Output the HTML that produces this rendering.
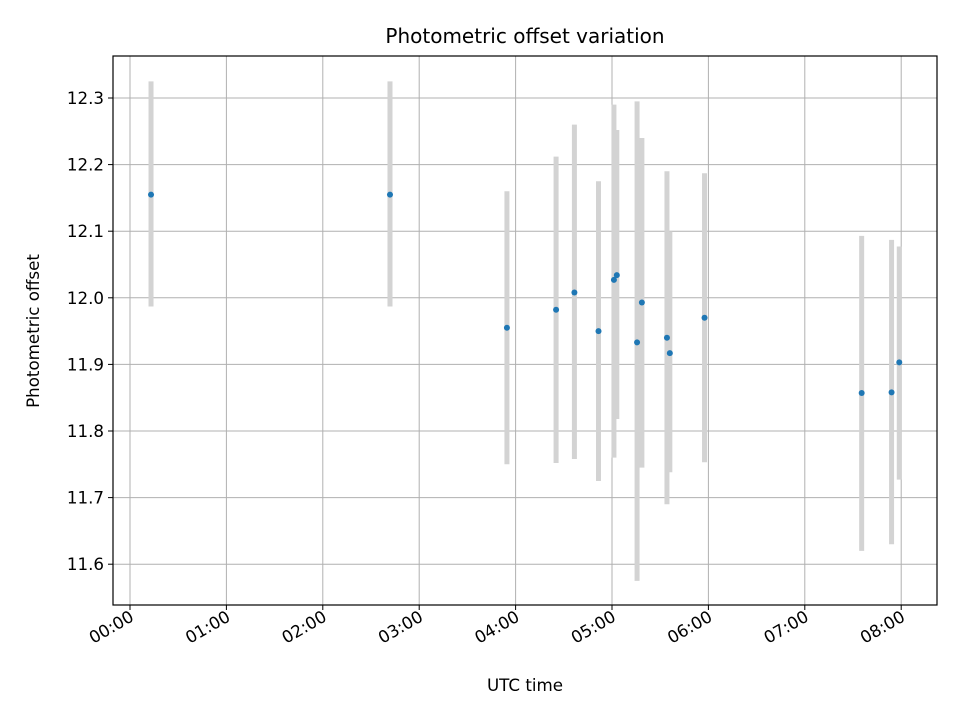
<!DOCTYPE html>
<html><head><meta charset="utf-8"><style>
body{margin:0;background:#fff}
svg text{font-family:"DejaVu Sans","Liberation Sans",sans-serif;fill:#000}
</style></head><body>
<svg id="c" width="960" height="720" xmlns="http://www.w3.org/2000/svg">
<rect width="960" height="720" fill="#fff"/>
<text x="525" y="43" font-size="20" text-anchor="middle">Photometric offset variation</text>
<text x="525" y="691" font-size="16.7" text-anchor="middle">UTC time</text>
<text transform="translate(39,331) rotate(-90)" font-size="16.7" text-anchor="middle">Photometric offset</text>
<g id="grid"></g><g id="errs"></g><g id="pts"></g><g id="ticks"></g>
<rect x="113" y="56" width="824" height="549" fill="none" stroke="#000" stroke-width="1.2"/>
</svg>
<script>
const timesH=[0.218,2.697,3.91,4.42,4.61,4.86,5.02,5.05,5.26,5.31,5.57,5.60,5.96,7.59,7.90,7.98];
const offsets=[12.155,12.155,11.955,11.982,12.008,11.95,12.027,12.034,11.933,11.993,11.94,11.917,11.97,11.857,11.858,11.903];
const errLow=[11.987,11.987,11.75,11.752,11.758,11.725,11.76,11.818,11.575,11.745,11.69,11.738,11.753,11.62,11.63,11.727];
const errHigh=[12.325,12.325,12.16,12.212,12.26,12.175,12.29,12.252,12.295,12.24,12.19,12.1,12.187,12.093,12.087,12.077];
const xTickLabels=["00:00","01:00","02:00","03:00","04:00","05:00","06:00","07:00","08:00"];
const yTicks=[11.6,11.7,11.8,11.9,12.0,12.1,12.2,12.3];
const NS="http://www.w3.org/2000/svg";
const X=h=>130+h*96.4, Y=v=>98+(12.3-v)*666;
function mk(tag,attrs,parent){const e=document.createElementNS(NS,tag);for(const k in attrs)e.setAttribute(k,attrs[k]);document.getElementById(parent).appendChild(e);return e;}
xTickLabels.forEach((l,i)=>{const x=X(i);
 const g=mk('line',{x1:x,x2:x,y1:56,y2:605,stroke:'#b0b0b0','stroke-width':1},'grid');
 
 
 mk('line',{x1:x,x2:x,y1:605,y2:610,stroke:'#000'},'ticks');
 const t=mk('text',{x:x+5,y:620,'font-size':16.7,'text-anchor':'end',transform:`rotate(-30 ${x+5} 620)`},'ticks');t.textContent=l;
 
 
});
yTicks.forEach(v=>{const y=Y(v);
 const g=mk('line',{x1:113,x2:937,y1:y,y2:y,stroke:'#b0b0b0','stroke-width':1},'grid');
 
 
 mk('line',{x1:108,x2:113,y1:y,y2:y,stroke:'#000'},'ticks');
 const t=mk('text',{x:104,y:y+6,'font-size':16.7,'text-anchor':'end'},'ticks');t.textContent=v.toFixed(1);
 
 
});
timesH.forEach((h,i)=>{const x=X(h);
 const e=mk('line',{x1:x,x2:x,y1:Y(errHigh[i]),y2:Y(errLow[i]),stroke:'#d3d3d3','stroke-width':5},'errs');
 
 
 const p=mk('circle',{cx:x,cy:Y(offsets[i]),r:3,fill:'#1f77b4'},'pts');
 
 
});
</script>
</body></html>
